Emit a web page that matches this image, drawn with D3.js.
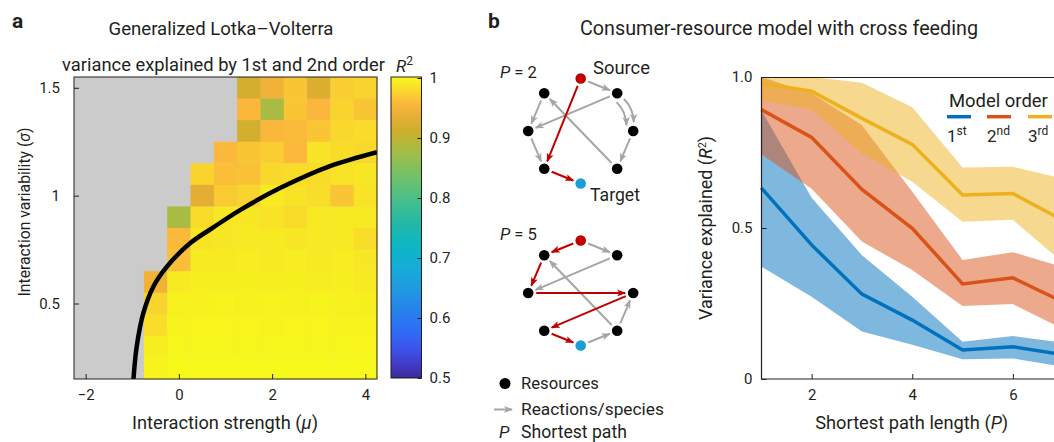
<!DOCTYPE html>
<html><head><meta charset="utf-8">
<script src="https://cdn.jsdelivr.net/npm/d3@7"></script>
<style>
body{margin:0;background:#fff}
svg{display:block}
text{font-family:Roboto,"Noto Sans",sans-serif;fill:#231f20}
</style>
</head><body>
<svg id="chart" width="1054" height="442"></svg>
<script>
// ---------------- DATA ----------------
// Panel a: heatmap (R^2), rows = sigma (top to bottom), columns = mu
const muValues = [-2,-1.5,-1,-0.5,0,0.5,1,1.5,2,2.5,3,3.5,4];
const sigmaValues = [1.5,1.4,1.3,1.2,1.1,1.0,0.9,0.8,0.7,0.6,0.5,0.4,0.3,0.2];
const N = null;
const r2Grid = [
  [N,N,N,N,N,N,N, 0.915,0.945,0.965,0.925,0.970,0.975],
  [N,N,N,N,N,N,N, 0.955,0.880,0.965,0.955,0.975,0.965],
  [N,N,N,N,N,N,N, 0.915,0.955,0.958,0.965,0.977,0.980],
  [N,N,N,N,N,N, 0.957,0.965,0.970,0.957,0.985,0.980,0.978],
  [N,N,N,N,N, 0.975,0.960,0.962,0.978,0.980,0.980,0.985,0.988],
  [N,N,N,N,N, 0.930,0.968,0.975,0.990,0.985,0.982,0.965,0.985],
  [N,N,N,N, 0.880,0.980,0.988,0.988,0.985,0.980,0.990,0.990,0.990],
  [N,N,N,N, 0.957,0.986,0.988,0.990,0.990,0.988,0.990,0.990,0.982],
  [N,N,N,N, 0.960,0.990,0.990,0.992,0.990,0.992,0.990,0.992,0.988],
  [N,N,N, 0.945,0.990,0.993,0.993,0.994,0.993,0.994,0.992,0.993,0.990],
  [N,N,N, 0.975,0.995,0.995,0.996,0.995,0.996,0.995,0.996,0.995,0.994],
  [N,N,N, 0.982,0.996,0.997,0.997,0.997,0.996,0.997,0.997,0.996,0.996],
  [N,N,N, 0.993,0.998,0.998,0.998,0.998,0.998,0.998,0.998,0.998,0.997],
  [N,N,N, 0.996,1.000,0.999,1.000,0.999,1.000,0.999,1.000,0.999,0.999]
];
const boundaryMu    = [-0.974,-0.905,-0.763,-0.549,-0.261,0.238,0.732,1.311,2.169,3.242,4.25];
const boundarySigma = [0.150, 0.300, 0.455, 0.578, 0.670, 0.779,0.852,0.933,1.035,1.137,1.202];
const muTicks = [-2,0,2,4];
const sigmaTicks = [0.5,1,1.5];
const r2ColorTicks = [0.5,0.6,0.7,0.8,0.9,1];
const cmapValues = [0.5,0.52,0.55,0.58,0.62,0.65,0.69,0.72,0.76,0.8,0.84,0.88,0.91,0.935,0.955,0.975,1.0];
const cmapColors = ["#3b2a98","#4138c2","#3c55ec","#2d6ef6","#2686e8","#1f9be0","#13afd5","#0cb6c2","#25b9a4","#4cbf86","#78c166","#a9bb42","#cdb02c","#e8ae35","#fbb63c","#f9d42e","#f7f91a"];

// Panel b: R^2 vs shortest path length
const pathLength = [1,2,3,4,5,6,7];
const order1Mean  = [0.633,0.444,0.281,0.195,0.096,0.107,0.080];
const order1Lower = [0.372,0.272,0.157,0.113,0.065,0.068,0.041];
const order1Upper = [0.890,0.600,0.410,0.272,0.123,0.142,0.120];
const order2Mean  = [0.892,0.800,0.628,0.499,0.315,0.335,0.255];
const order2Lower = [0.744,0.630,0.455,0.361,0.242,0.248,0.165];
const order2Upper = [1.000,0.946,0.840,0.620,0.394,0.420,0.370];
const order3Mean  = [0.979,0.953,0.863,0.777,0.609,0.614,0.525];
const order3Lower = [0.921,0.893,0.747,0.653,0.521,0.527,0.385];
const order3Upper = [1.000,1.000,0.981,0.900,0.700,0.703,0.663];
const orderNames = ["1","2","3"];
const orderSuffix = ["st","nd","rd"];
const pTicks = [2,4,6];
const r2Ticks = [0,0.5,1];

// Network diagrams
const netNodes = ["S","A","B","C","D","E","F","T"];
const netP2Gray = [["S","B"],["B","C"],["B","D",-4],["B","D",4],["D","F"],["F","A"],["A","C"],["C","E"]];
const netP2Red  = [["S","E"],["E","T"]];
const netP5Gray = [["S","B"],["B","C"],["F","A"],["F","D"],["T","F"]];
const netP5Red  = [["S","A"],["A","C"],["C","D"],["D","E"],["E","T"]];

// ---------------- DRAW ----------------
const svg = d3.select("#chart");
const C_BLUE="#0072bd", C_ORANGE="#d95319", C_YELLOW="#edb120";
const AX="#231f20";
// scale a text's font-size so it spans the width measured on the reference
function fit(sel,w){ const n=sel.node(); const fs=parseFloat(sel.attr("font-size")); const L=n.getComputedTextLength(); if(L>0) sel.attr("font-size",(fs*w/L).toFixed(2)); return sel; }

// ===== Panel a =====
const hx = d3.scaleLinear().domain([-2.25,4.25]).range([74,377]);
const hy = d3.scaleLinear().domain([0.15,1.55]).range([379,77]);
const cmap = d3.scaleLinear().domain(cmapValues).range(cmapColors).clamp(true);

const ga = svg.append("g");
ga.append("rect").attr("x",hx(-2.25)).attr("y",hy(1.55)).attr("width",hx(4.25)-hx(-2.25)).attr("height",hy(0.15)-hy(1.55)).attr("fill","#cbcbcb");
const cells=[];
r2Grid.forEach((row,i)=>row.forEach((v,j)=>{ if(v!==null) cells.push({mu:muValues[j],s:sigmaValues[i],v}); }));
ga.selectAll("rect.cell").data(cells).enter().append("rect").attr("class","cell")
  .attr("x",d=>hx(d.mu-0.25)).attr("y",d=>hy(d.s+0.05))
  .attr("width",d=>hx(d.mu+0.25)-hx(d.mu-0.25)+0.3).attr("height",d=>hy(d.s-0.05)-hy(d.s+0.05)+0.3)
  .attr("fill",d=>cmap(d.v));

svg.append("clipPath").attr("id","hclip").append("rect").attr("x",74).attr("y",77).attr("width",303).attr("height",302);
ga.append("path").datum(boundaryMu.map((m,i)=>[m,boundarySigma[i]]))
  .attr("clip-path","url(#hclip)")
  .attr("d",d3.line().x(d=>hx(d[0])).y(d=>hy(d[1])).curve(d3.curveCatmullRom.alpha(0.5)))
  .attr("fill","none").attr("stroke","#000").attr("stroke-width",4.5);

ga.append("rect").attr("x",74).attr("y",77).attr("width",303).attr("height",302).attr("fill","none").attr("stroke",AX).attr("stroke-width",1);

const axA_x = ga.append("g").attr("transform","translate(0,379)")
  .call(d3.axisBottom(hx).tickValues(muTicks).tickFormat(d3.format("d")).tickSizeInner(-5).tickSizeOuter(0).tickPadding(10));
const axA_y = ga.append("g").attr("transform","translate(74,0)")
  .call(d3.axisLeft(hy).tickValues(sigmaTicks).tickFormat(d=>String(d)).tickSizeInner(-5).tickSizeOuter(0).tickPadding(14));
[axA_x,axA_y].forEach(a=>{a.select(".domain").remove();a.selectAll("line").attr("stroke",AX);a.selectAll("text").attr("font-size",15).attr("fill",AX).style("font-family","Roboto");});

// colorbar
const cy = d3.scaleLinear().domain([0.5,1]).range([378,78]);
const grad = svg.append("defs").append("linearGradient").attr("id","cbar").attr("x1",0).attr("y1",1).attr("x2",0).attr("y2",0);
d3.range(0,51).forEach(k=>{const v=0.5+k*0.01; grad.append("stop").attr("offset",(k/50)).attr("stop-color",cmap(v));});
ga.append("rect").attr("x",391).attr("y",77).attr("width",30.5).attr("height",301).attr("fill","url(#cbar)").attr("stroke",AX).attr("stroke-width",1);
const axC = ga.append("g").attr("transform","translate(421.5,0)")
  .call(d3.axisRight(cy).tickValues(r2ColorTicks).tickFormat(d=>String(d)).tickSizeInner(-4).tickSizeOuter(0).tickPadding(8));
axC.select(".domain").remove(); axC.selectAll("line").attr("stroke",AX);
axC.selectAll("text").attr("font-size",15).attr("fill",AX).style("font-family","Roboto");

// texts panel a
svg.append("text").attr("x",12).attr("y",28).attr("font-size",21).attr("font-weight","bold").text("a");
fit(svg.append("text").attr("x",221).attr("y",35).attr("text-anchor","middle").attr("font-size",17).text("Generalized Lotka–Volterra"),225);
fit(svg.append("text").attr("x",223.5).attr("y",71).attr("text-anchor","middle").attr("font-size",16).text("variance explained by 1st and 2nd order"),323);
const rt = svg.append("text").attr("x",396).attr("y",72).attr("font-size",17);
rt.append("tspan").attr("font-style","italic").text("R");
rt.append("tspan").attr("dy",-7).attr("font-size",12).text("2");
const xl = svg.append("text").attr("x",225).attr("y",429).attr("text-anchor","middle").attr("font-size",16);
xl.append("tspan").text("Interaction strength (");
xl.append("tspan").attr("font-style","italic").text("μ");
xl.append("tspan").text(")");
fit(xl,186);
const yl = svg.append("text").attr("transform","translate(30,212) rotate(-90)").attr("text-anchor","middle").attr("font-size",16);
yl.append("tspan").text("Interaction variability (");
yl.append("tspan").attr("font-style","italic").text("σ");
yl.append("tspan").text(")");
fit(yl,169);

// ===== Panel b: network diagrams =====
svg.append("text").attr("x",488).attr("y",28).attr("font-size",21).attr("font-weight","bold").text("b");
fit(svg.append("text").attr("x",779).attr("y",35).attr("text-anchor","middle").attr("font-size",17).text("Consumer-resource model with cross feeding"),398);

const defs = svg.append("defs");
function marker(id,color){
  defs.append("marker").attr("id",id).attr("viewBox","0 0 10 10").attr("refX",9).attr("refY",5)
    .attr("markerWidth",9).attr("markerHeight",9).attr("markerUnits","userSpaceOnUse").attr("orient","auto")
    .append("path").attr("d","M0,1 L10,5 L0,9 L2.5,5 Z").attr("fill",color);
}
marker("arGray","#a6a6a6"); marker("arRed","#c00000");
const nodeAngle = {S:-90,A:-134,B:-46,C:180,D:0,E:134,F:46,T:90};
function drawNet(cx,cyy,grayE,redE,label){
  const R=52.5;
  const pos={}; netNodes.forEach(n=>{const a=nodeAngle[n]*Math.PI/180; pos[n]=[cx+R*Math.cos(a),cyy+R*Math.sin(a)];});
  const g=svg.append("g");
  function edge(e,color,mk){
    const p0=pos[e[0]], p1=pos[e[1]];
    const dx=p1[0]-p0[0], dy=p1[1]-p0[1], L=Math.hypot(dx,dy), ux=dx/L, uy=dy/L;
    const off=e[2]||0;           // parallel offset for double arcs
    const nx=-uy, ny=ux;
    const s=[p0[0]+ux*8+nx*off,p0[1]+uy*8+ny*off], t=[p1[0]-ux*8+nx*off,p1[1]-uy*8+ny*off];
    let d;
    if(off){ const bend=-5; const mx=(s[0]+t[0])/2 + nx*bend, my=(s[1]+t[1])/2 + ny*bend; d=`M${s[0]},${s[1]} Q${mx},${my} ${t[0]},${t[1]}`; }
    else d=`M${s[0]},${s[1]} L${t[0]},${t[1]}`;
    g.append("path").attr("d",d).attr("fill","none").attr("stroke",color).attr("stroke-width",2).attr("marker-end",`url(#${mk})`);
  }
  grayE.forEach(e=>edge(e,"#a6a6a6","arGray"));
  redE.forEach(e=>edge(e,"#c00000","arRed"));
  netNodes.forEach(n=>{
    g.append("circle").attr("cx",pos[n][0]).attr("cy",pos[n][1]).attr("r",5.3)
     .attr("fill",n==="S"?"#c00000":(n==="T"?"#1a9fd4":"#000"));
  });
  const lt=svg.append("text").attr("x",500).attr("y",cyy-53.5).attr("font-size",16);
  lt.append("tspan").attr("font-style","italic").text("P");
  lt.append("tspan").text(" = "+label);
  fit(lt,37);
  return pos;
}
drawNet(580.7,131,netP2Gray,netP2Red,"2");
drawNet(580.7,293,netP5Gray,netP5Red,"5");
fit(svg.append("text").attr("x",593).attr("y",74).attr("font-size",16).text("Source"),57);
fit(svg.append("text").attr("x",590).attr("y",201).attr("font-size",16).text("Target"),50);

// legend panel b network
svg.append("circle").attr("cx",505).attr("cy",383.5).attr("r",5.5).attr("fill","#000");
fit(svg.append("text").attr("x",521).attr("y",389).attr("font-size",16).text("Resources"),78);
svg.append("path").attr("d","M494,409.5 L512,409.5").attr("stroke","#a6a6a6").attr("stroke-width",2).attr("marker-end","url(#arGray)");
fit(svg.append("text").attr("x",521).attr("y",415).attr("font-size",16).text("Reactions/species"),143);
svg.append("text").attr("x",499).attr("y",438).attr("font-size",17).attr("font-style","italic").text("P");
fit(svg.append("text").attr("x",521).attr("y",438).attr("font-size",16).text("Shortest path"),106);

// ===== Panel b: line chart =====
const lx = d3.scaleLinear().domain([1,7]).range([761.3,1063.2]);
const ly = d3.scaleLinear().domain([0,1]).range([379,77]);
const gb = svg.append("g");
const series = [
  {mean:order1Mean,lo:order1Lower,hi:order1Upper,c:C_BLUE},
  {mean:order2Mean,lo:order2Lower,hi:order2Upper,c:C_ORANGE},
  {mean:order3Mean,lo:order3Lower,hi:order3Upper,c:C_YELLOW}
];
const area = d3.area().x(d=>lx(d.p)).y0(d=>ly(d.lo)).y1(d=>ly(d.hi));
const line = d3.line().x(d=>lx(d.p)).y(d=>ly(d.m));
series.forEach(s=>{
  const pts=pathLength.map((p,i)=>({p,lo:s.lo[i],hi:s.hi[i],m:s.mean[i]}));
  gb.append("path").datum(pts).attr("d",area).attr("fill",s.c).attr("fill-opacity",0.5);
});
series.forEach(s=>{
  const pts=pathLength.map((p,i)=>({p,m:s.mean[i]}));
  gb.append("path").datum(pts).attr("d",line).attr("fill","none").attr("stroke",s.c).attr("stroke-width",3.5);
});
gb.append("path").attr("d",`M${lx(7)+20},77.5 L761.5,77.5 L761.5,379 L${lx(7)+20},379`).attr("fill","none").attr("stroke",AX).attr("stroke-width",1.2);
const axB_x = gb.append("g").attr("transform","translate(0,379)")
  .call(d3.axisBottom(lx).tickValues(pTicks).tickFormat(d3.format("d")).tickSizeInner(-5).tickSizeOuter(0).tickPadding(10));
const axB_y = gb.append("g").attr("transform","translate(761.5,0)")
  .call(d3.axisLeft(ly).tickValues(r2Ticks).tickFormat(d=>d===0?"0":d3.format(".1f")(d)).tickSizeInner(-5).tickSizeOuter(0).tickPadding(9));
[axB_x,axB_y].forEach(a=>{a.select(".domain").remove();a.selectAll("line").attr("stroke",AX);a.selectAll("text").attr("font-size",15).attr("fill",AX).style("font-family","Roboto");});

const bxl = svg.append("text").attr("x",911.7).attr("y",429).attr("text-anchor","middle").attr("font-size",16);
bxl.append("tspan").text("Shortest path length (");
bxl.append("tspan").attr("font-style","italic").text("P");
bxl.append("tspan").text(")");
fit(bxl,193);
const byl = svg.append("text").attr("transform","translate(712,228) rotate(-90)").attr("text-anchor","middle").attr("font-size",16);
byl.append("tspan").text("Variance explained (");
byl.append("tspan").attr("font-style","italic").text("R");
byl.append("tspan").attr("dy",-6).attr("font-size",11).text("2");
byl.append("tspan").attr("dy",6).text(")");
fit(byl,185);

// legend line chart
fit(svg.append("text").attr("x",949).attr("y",107).attr("font-size",17).text("Model order"),99);
const legX=[947,987,1028];
series.forEach((s,i)=>{
  svg.append("line").attr("x1",legX[i]).attr("x2",legX[i]+24).attr("y1",116.7).attr("y2",116.7).attr("stroke",s.c).attr("stroke-width",3.5);
  const t=svg.append("text").attr("x",legX[i]).attr("y",142).attr("font-size",17);
  t.append("tspan").text(orderNames[i]);
  t.append("tspan").attr("dy",-7).attr("font-size",12).text(orderSuffix[i]);
});
</script>
</body></html>
